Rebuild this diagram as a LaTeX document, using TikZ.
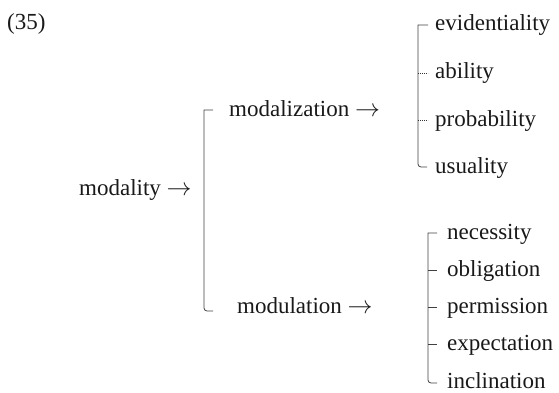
\documentclass[tikz,border=0pt]{standalone}
\usepackage{fontspec}
\setmainfont{Liberation Serif}
\begin{document}
\begin{tikzpicture}[x=1pt,y=-1pt,
  lbl/.style={anchor=base west,inner sep=0pt,text=black!90,
    font=\fontsize{23}{27}\selectfont},
  brace/.style={draw=black!75,line width=0.8pt},
  dotbrace/.style={draw=black!80,line width=0.8pt,dash pattern=on 0.9pt off 1.1pt}]
\useasboundingbox (0,0) rectangle (559,393);

% example number
\node[lbl] (num) at (7,30) {(35)};

% root
\node[lbl] (root) at (79,195) {modality $\rightarrow$};

% first level
\node[lbl] (mz) at (229,117) {modalization $\rightarrow$};
\node[lbl] (mu) at (237,313) {modulation $\rightarrow$};
\coordinate (bA1) at (204,110);
\coordinate (bA2) at (204,311);
\draw[brace] (213,110) -- (bA1) {[rounded corners=3pt] -- (bA2) -- (213,311)};

% modalization branch
\node[lbl] (ev) at (435,31) {evidentiality};
\node[lbl] (ab) at (435,79) {ability};
\node[lbl] (pr) at (435,126) {probability};
\node[lbl] (us) at (435,173) {usuality};
\coordinate (bB1) at (418,25);
\coordinate (bB2) at (418,73);
\coordinate (bB3) at (418,120);
\coordinate (bB4) at (418,167);
\draw[brace] (428,25) -- (bB1) {[rounded corners=3pt] -- (bB4) -- (427,167)};
\draw[dotbrace] (bB2) -- (428,73);
\draw[dotbrace] (bB3) -- (428,120);

% modulation branch
\node[lbl] (ne) at (447,239) {necessity};
\node[lbl] (ob) at (447,276) {obligation};
\node[lbl] (pe) at (447,313) {permission};
\node[lbl] (ex) at (447,350) {expectation};
\node[lbl] (in) at (447,388) {inclination};
\coordinate (bC1) at (428,233);
\coordinate (bC2) at (428,270);
\coordinate (bC3) at (428,307);
\coordinate (bC4) at (428,344);
\coordinate (bC5) at (428,383);
\draw[brace] (437,233) -- (bC1) {[rounded corners=3pt] -- (bC5) -- (437,383)};
\draw[brace] (bC2) -- (437,270);
\draw[brace] (bC3) -- (437,307);
\draw[brace] (bC4) -- (437,344);
\end{tikzpicture}
\end{document}
